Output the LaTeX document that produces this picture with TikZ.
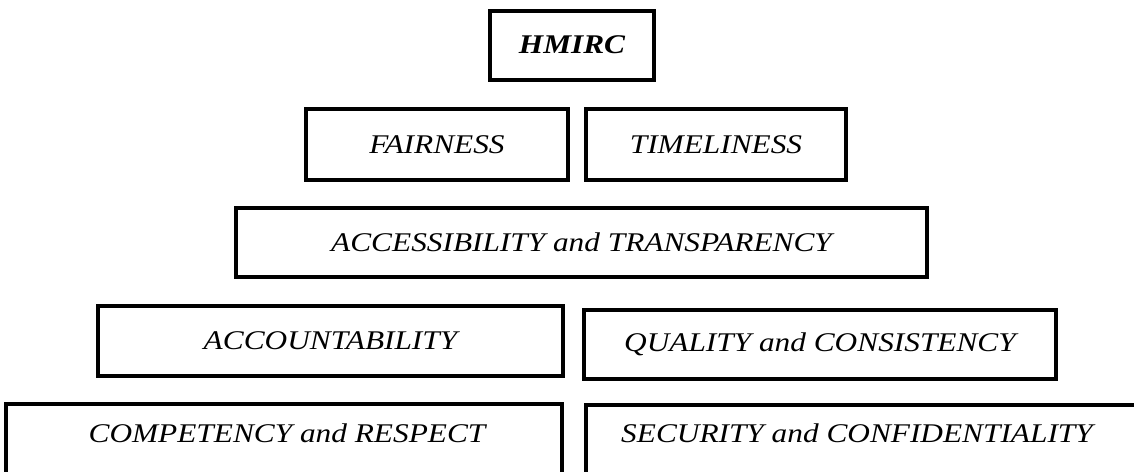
\documentclass[tikz,border=0pt]{standalone}
\usepackage{fontspec}
\setmainfont{Liberation Serif}[FakeStretch=1.16]
\begin{document}
\begin{tikzpicture}[x=1pt,y=-1pt,
  box/.style={draw=black,line width=4pt,rectangle,inner sep=0pt,
    font=\fontsize{27}{32}\selectfont\itshape},
  lbl/.style={inner sep=0pt,font=\fontsize{27}{32}\selectfont\itshape}]
  \useasboundingbox (0,0) rectangle (1134,471);
  \clip (0,0) rectangle (1134,471);
  % top of the pyramid
  \node[box,minimum width=164pt,minimum height=69pt,font=\fontsize{27}{32}\selectfont\bfseries\itshape]
    (hmirc) at (572,45) {HMIRC};
  % second tier
  \node[box,minimum width=262pt,minimum height=71pt] (fair) at (437,144.5) {FAIRNESS};
  \node[box,minimum width=260pt,minimum height=71pt] (time) at (716,144.5) {TIMELINESS};
  % third tier
  \node[box,minimum width=691pt,minimum height=69pt] (access) at (581.5,242.5)
    {ACCESSIBILITY and TRANSPARENCY};
  % fourth tier
  \node[box,minimum width=465pt,minimum height=70pt] (account) at (330.5,341) {ACCOUNTABILITY};
  \node[box,minimum width=472pt,minimum height=69pt] (quality) at (820,344.5)
    {QUALITY and CONSISTENCY};
  % base tier, running past the lower edge
  \node[box,minimum width=556pt,minimum height=80pt] (compbox) at (284,444) {};
  \node[box,minimum width=560pt,minimum height=80pt] (secbox) at (866,445) {};
  \node[lbl] (comp) at (287,433) {COMPETENCY and RESPECT};
  \node[lbl] (sec) at (857,433) {SECURITY and CONFIDENTIALITY};
\end{tikzpicture}
\end{document}
